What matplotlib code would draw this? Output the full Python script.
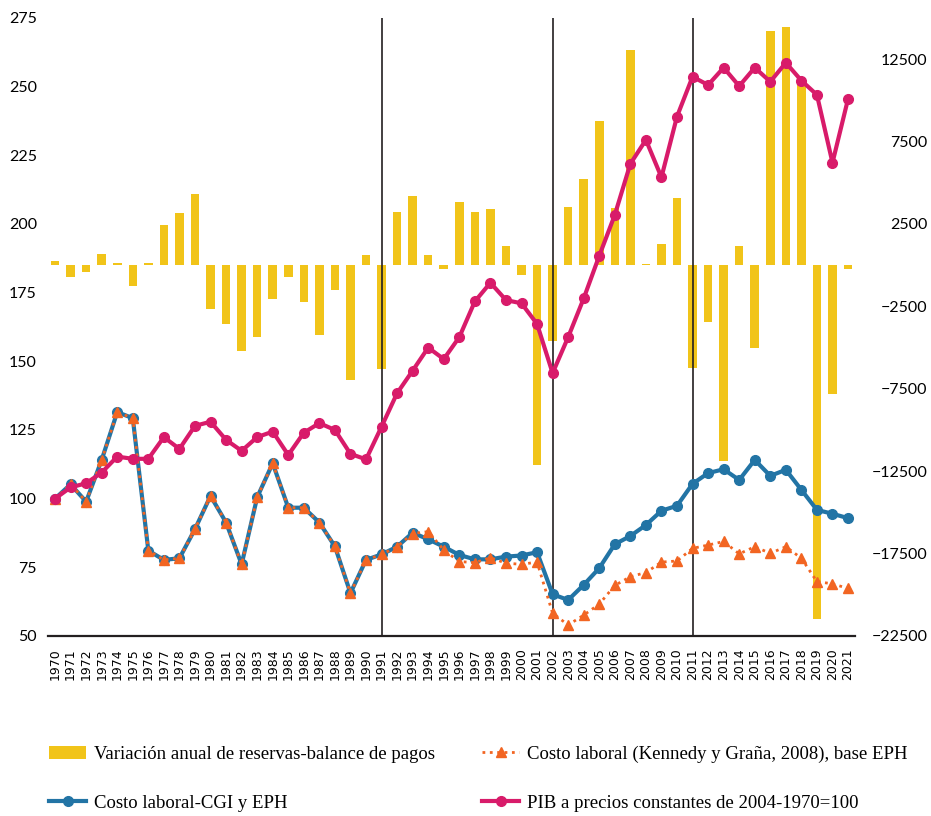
import numpy as np
import matplotlib.pyplot as plt

years = np.arange(1970, 2022)

# PIB a precios constantes (1970=100)
pib = [100.0, 104.1, 105.6, 109.5, 115.3, 114.5, 114.5, 122.4, 118.1, 126.5,
       128.0, 121.4, 117.4, 122.4, 124.4, 115.9, 124.0, 127.5, 125.0, 116.3,
       114.3, 126.2, 138.4, 146.6, 155.0, 150.8, 158.8, 171.8, 178.6, 172.3,
       171.1, 163.6, 145.7, 158.8, 172.9, 188.4, 203.3, 221.9, 230.6, 217.0,
       239.1, 253.6, 250.6, 256.9, 250.2, 256.9, 251.8, 258.7, 252.2, 247.0,
       222.3, 245.5]

# Costo laboral - CGI y EPH
costo_cgi = [100.0, 105.2, 98.9, 114.1, 131.5, 129.3, 81.1, 77.7, 78.3, 88.9,
             101.0, 91.3, 76.1, 100.5, 112.9, 96.7, 96.7, 91.3, 82.6, 65.6,
             77.7, 79.7, 82.5, 87.6, 85.2, 82.5, 79.5, 77.9, 77.9, 78.9,
             79.3, 80.5, 65.2, 63.1, 68.6, 74.7, 83.4, 86.4, 90.4, 95.6,
             97.4, 105.4, 109.3, 110.7, 106.8, 114.1, 108.3, 110.5, 103.2, 95.9,
             94.5, 92.9]

# Costo laboral (Kennedy y Graña, 2008), base EPH
costo_kg = [100.0, 105.2, 98.9, 114.1, 131.5, 129.3, 81.1, 77.7, 78.3, 88.9,
            101.0, 91.3, 76.1, 100.5, 112.9, 96.7, 96.7, 91.3, 82.6, 65.6,
            77.7, 79.7, 82.5, 87.3, 88.0, 81.3, 77.1, 76.7, 78.5, 76.5,
            76.1, 76.9, 58.3, 54.0, 57.6, 61.6, 68.4, 71.6, 73.1, 76.9,
            77.3, 81.9, 83.1, 84.4, 79.9, 82.5, 80.1, 82.5, 78.3, 69.8,
            69.0, 67.3]

# Variación anual de reservas - balance de pagos (eje derecho)
reservas = [250, -715, -410, 700, 150, -1245, 150, 2415, 3170, 4320,
            -2640, -3570, -5230, -4360, -2030, -720, -2230, -4220, -1530, -6950,
            595, -6300, 3230, 4180, 595, -230, 3840, 3230, 3410, 1140,
            -575, -12110, -4625, 3530, 5230, 8770, 3470, 13040, 100, 1305,
            4080, -6240, -3450, -11910, 1140, -5030, 14190, 14460, 11000, -21490,
            -7820, -230]

cortes = [1991, 2002, 2011]

amarillo = '#F1C419'
rosa = '#D81B6A'
azul = '#2274A5'
naranja = '#F26522'

fig = plt.figure(figsize=(9.31, 8.16), dpi=100)
ax = fig.add_axes([0.0516, 0.2206, 0.8668, 0.7574])
ax2 = ax.twinx()
ax.set_zorder(ax2.get_zorder() + 1)
ax.patch.set_visible(False)

barras = ax2.bar(years, reservas, width=0.55, color=amarillo,
                 label='Variación anual de reservas-balance de pagos')

for c in cortes:
    ax.axvline(c, color='#231F20', lw=1.2, zorder=1.5)

l_cgi, = ax.plot(years, costo_cgi, color=azul, lw=3, marker='o', ms=7,
                 label='Costo laboral-CGI y EPH', zorder=3)
l_kg, = ax.plot(years, costo_kg, color=naranja, lw=2, ls=':', marker='^', ms=7,
                label='Costo laboral (Kennedy y Graña, 2008), base EPH', zorder=4)
l_pib, = ax.plot(years, pib, color=rosa, lw=3, marker='o', ms=7,
                 label='PIB a precios constantes de 2004-1970=100', zorder=5)

ax.set_xlim(1969.55, 2021.45)
ax.set_ylim(50, 275)
ax2.set_ylim(-22500, 15000)
ax.set_yticks(np.arange(50, 276, 25))
ax2.set_yticks(np.arange(-22500, 12501, 5000))
ax.set_xticks(years)
ax.set_xticklabels([str(y) for y in years], rotation=90, fontsize=9,
                   family='DejaVu Sans')

for a in (ax, ax2):
    for s in ['top', 'left', 'right']:
        a.spines[s].set_visible(False)
ax2.spines['bottom'].set_visible(False)
ax.spines['bottom'].set_linewidth(1.6)
ax.spines['bottom'].set_color('#231F20')

ax.tick_params(axis='x', length=0, pad=9)
ax.tick_params(axis='y', length=0, pad=8)
ax2.tick_params(axis='y', length=0, pad=52)
for lab in ax.get_yticklabels():
    lab.set_family('Lato')
    lab.set_fontsize(11.5)
ax2.set_yticklabels([f'{int(v)}'.replace('-', '\u2212') for v in ax2.get_yticks()])
for lab in ax2.get_yticklabels():
    lab.set_family('Lato')
    lab.set_fontsize(11.5)
    lab.set_ha('right')

fig.legend(handles=[barras, l_cgi, l_kg, l_pib], ncol=2, frameon=False,
           loc='upper left', bbox_to_anchor=(0.043, 0.098),
           prop={'family': 'Liberation Serif', 'size': 13.5},
           borderpad=0, handlelength=1.95, handletextpad=0.45,
           labelspacing=1.7, columnspacing=2.5)

fig.savefig('out.png', dpi=100)
